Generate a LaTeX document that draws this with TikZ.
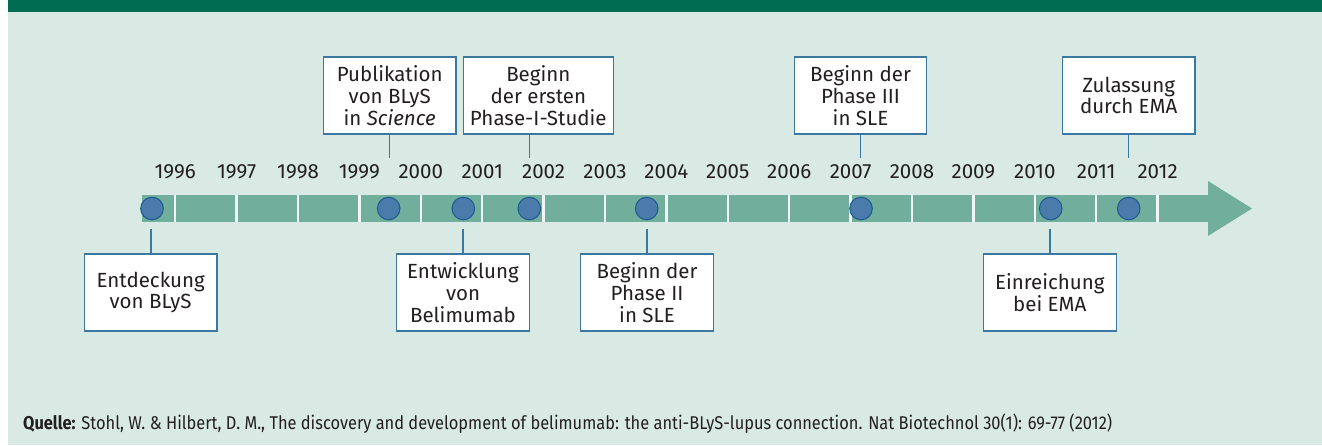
\documentclass[tikz,border=0pt]{standalone}
\usepackage{fontspec}
\usepackage{graphicx}
\setmainfont{Fira Sans}
\definecolor{bgcol}{HTML}{D9EAE4}
\definecolor{bandcol}{HTML}{006D52}
\definecolor{barcol}{HTML}{72AE9C}
\definecolor{dotfill}{HTML}{4A7BAB}
\definecolor{dotline}{HTML}{1B5A8F}
\definecolor{boxline}{HTML}{3A78A2}
\definecolor{txt}{HTML}{231F20}
\tikzset{
  event/.style={draw=boxline, line width=1.2pt, fill=white, minimum width=132.7pt,
    minimum height=77pt, align=center, inner sep=0pt, text=txt,
    font=\fontsize{20.5}{21.7}\selectfont},
  dot/.style={circle, fill=dotfill, draw=dotline, line width=1pt, minimum size=22.6pt, inner sep=0pt},
  conn/.style={draw=boxline, line width=1.2pt},
  year/.style={anchor=base, inner sep=0pt, text=txt, font=\fontsize{20.5}{22}\selectfont},
}
\begin{document}
\begin{tikzpicture}[x=1pt,y=-1pt]
\useasboundingbox (0,0) rectangle (1322,445);
\fill[white] (0,0) rectangle (1322,445);
\fill[bgcol] (8,0) rectangle (1322,445);
\fill[bandcol] (8,0) rectangle (1322,12);
% bar and arrow
\fill[barcol] (142,195) rectangle (1209,222);
\fill[barcol] (1208,181) -- (1252,208.5) -- (1208,236) -- cycle;
\foreach \k in {0,...,16} {
  \fill[bgcol!40!white] ({175.2+61.4*\k-1.2},195) rectangle ({175.2+61.4*\k+1.2},222);
}
% years
\foreach \y [count=\k from 0] in {1996,1997,1998,1999,2000,2001,2002,2003,2004,2005,2006,2007,2008,2009,2010,2011,2012} {
  \node[year] (y\y) at ({175.2+61.4*\k},178) {\y};
}
% dots
\node[dot] (d1) at (152,208.5) {};
\node[dot] (d2) at (388.7,208.5) {};
\node[dot] (d3) at (463.3,208.5) {};
\node[dot] (d4) at (529.3,208.5) {};
\node[dot] (d5) at (646.7,208.5) {};
\node[dot] (d6) at (861,208.5) {};
\node[dot] (d7) at (1050.7,208.5) {};
\node[dot] (d8) at (1128.7,208.5) {};
% top boxes
\node[event] (t1) at (389.7,95.5) {Publikation\\von BLyS\\in \textit{Science}};
\node[event, minimum width=150pt] (t2) at (538.3,95.5) {Beginn\\der ersten\\Phase-I-Studie};
\node[event] (t3) at (860.5,95.5) {Beginn der\\Phase III\\in SLE};
\node[event] (t4) at (1128.7,95.5) {Zulassung\\durch EMA};
% bottom boxes
\node[event] (b1) at (150.7,292.5) {Entdeckung\\von BLyS};
\node[event] (b2) at (463,292.5) {Entwicklung\\von\\Belimumab};
\node[event] (b3) at (647,292.5) {Beginn der\\Phase II\\in SLE};
\node[event] (b4) at (1049.8,292.5) {Einreichung\\bei EMA};
% connector ends
\coordinate (e1) at (389.7,158);
\coordinate (e2) at (529.7,158);
\coordinate (e3) at (860.7,158);
\coordinate (e4) at (1128.7,158);
\coordinate (f1) at (151,229.3);
\coordinate (f2) at (463,229.3);
\coordinate (f3) at (647,229.3);
\coordinate (f4) at (1050,229.3);
\draw[conn] (e1 |- t1.south) -- (e1);
\draw[conn] (e2 |- t2.south) -- (e2);
\draw[conn] (e3 |- t3.south) -- (e3);
\draw[conn] (e4 |- t4.south) -- (e4);
\draw[conn] (f1) -- (f1 |- b1.north);
\draw[conn] (f2) -- (f2 |- b2.north);
\draw[conn] (f3) -- (f3 |- b3.north);
\draw[conn] (f4) -- (f4 |- b4.north);
% source
\node[anchor=base west, inner sep=0pt, text=txt] (src) at (23,429)
  {\resizebox{1089pt}{\height}{\fontsize{18.5}{21}\selectfont\textbf{Quelle:} Stohl, W. \& Hilbert, D. M., The discovery and development of belimumab: the anti-BLyS-lupus connection. Nat Biotechnol 30(1): 69-77 (2012)}};
\end{tikzpicture}
\end{document}
